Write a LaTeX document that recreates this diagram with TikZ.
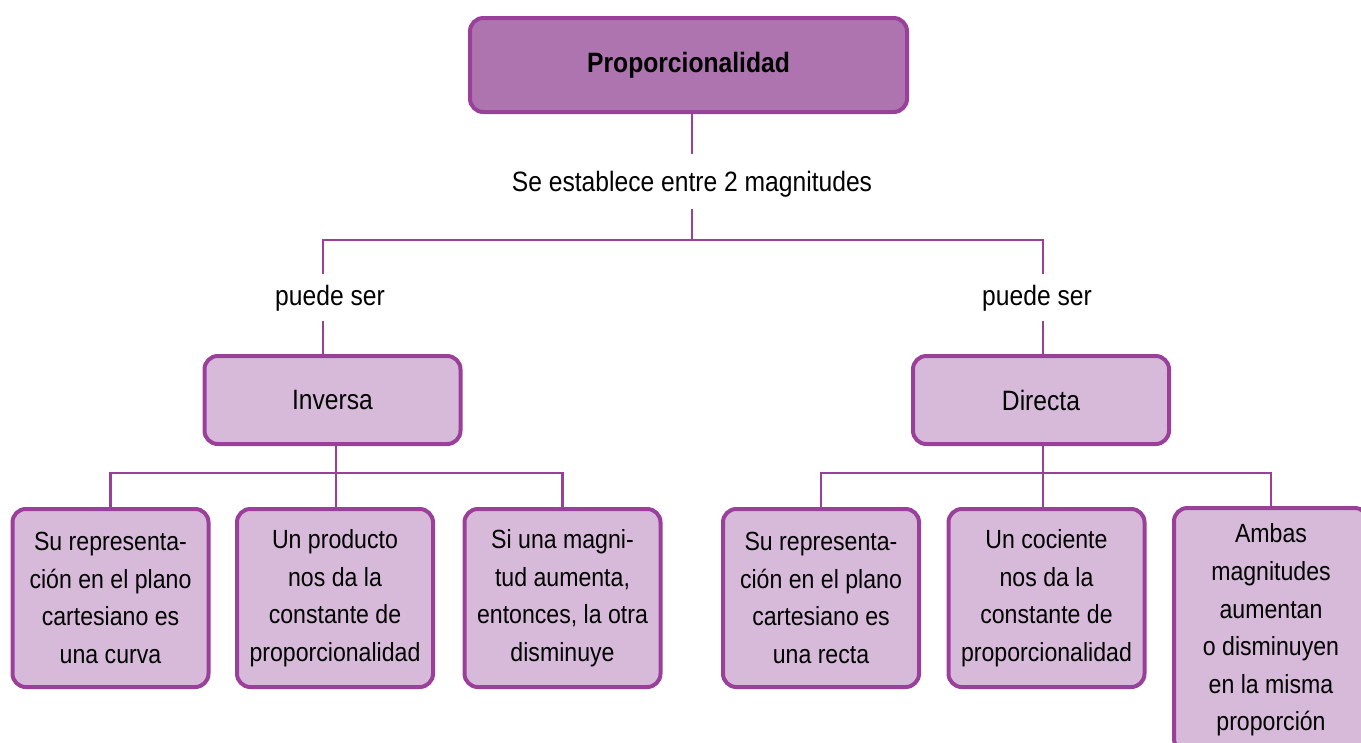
\documentclass[tikz,border=0pt]{standalone}
\usepackage{fontspec}
\setmainfont[FakeStretch=0.88]{Liberation Sans}
\begin{document}
\begin{tikzpicture}[x=0.75pt,y=-0.75pt,
  bd/.style={draw=pborder,line width=3pt,rounded corners=10pt},
  topbox/.style={bd,fill=pdark,minimum width=437*0.75pt,minimum height=94*0.75pt,font=\fontsize{21}{25}\selectfont\bfseries},
  midbox/.style={bd,fill=plight,minimum width=256*0.75pt,minimum height=88*0.75pt,font=\fontsize{21}{25}\selectfont},
  lowbox/.style={bd,fill=plight,minimum width=196*0.75pt,minimum height=178*0.75pt,align=center,font=\fontsize{19.7}{28.2}\selectfont},
  lbl/.style={font=\fontsize{21}{25}\selectfont,inner sep=2pt},
  conn/.style={draw=pborder,line width=1.6pt}]
\definecolor{pdark}{RGB}{174,116,175}
\definecolor{plight}{RGB}{215,186,218}
\definecolor{pborder}{RGB}{154,64,154}
\useasboundingbox (0,0) rectangle (1361,743);
\clip (0,0) rectangle (1361,743);
% nodes
\node[topbox] (top) at (688.5,65) {Proporcionalidad};
\node[lbl] (se) at (692,184) {Se establece entre 2 magnitudes};
\node[lbl] (ps1) at (330,298) {puede ser};
\node[lbl] (ps2) at (1037,298) {puede ser};
\node[midbox] (inv) at (332.5,400) {Inversa};
\node[midbox] (dir) at (1041,400) {Directa};
\node[lowbox] (b1) at (110.5,598) {Su representa-\\ción en el plano\\cartesiano es\\una curva};
\node[lowbox] (b2) at (335,598) {Un producto\\nos da la\\constante de\\proporcionalidad};
\node[lowbox] (b3) at (562.5,598) {Si una magni-\\tud aumenta,\\entonces, la otra\\disminuye};
\node[lowbox] (b4) at (821,598) {Su representa-\\ción en el plano\\cartesiano es\\una recta};
\node[lowbox] (b5) at (1046.5,598) {Un cociente\\nos da la\\constante de\\proporcionalidad};
\node[lowbox,minimum width=194*0.75pt,minimum height=244*0.75pt] (b6) at (1271,630) {Ambas\\magnitudes\\aumentan\\o disminuyen\\en la misma\\proporción};
% junctions
\coordinate (j0) at (692,240);
\coordinate (xl) at (323,0);
\coordinate (xr) at (1043,0);
\coordinate (hl) at (336,473);
\coordinate (hr) at (1043,473);
% connectors
\draw[conn] (top.south -| j0) -- ([yshift=14*0.75pt]se.north -| j0);
\draw[conn] ([yshift=-9*0.75pt]se.south -| j0) -- (j0);
\draw[conn] ([yshift=8*0.75pt]ps1.north -| xl) |- (j0) -| ([yshift=8*0.75pt]ps2.north -| xr);
\draw[conn] ([yshift=-7*0.75pt]ps1.south -| xl) -- (inv.north -| xl);
\draw[conn] ([yshift=-7*0.75pt]ps2.south -| xr) -- (dir.north -| xr);
\draw[conn] (inv.south -| hl) -- (hl);
\draw[conn] (b1.north) |- (hl) -| (b3.north);
\draw[conn] (hl) -- (b2.north -| hl);
\draw[conn] (dir.south -| hr) -- (hr);
\draw[conn] (b4.north) |- (hr) -| (b6.north);
\draw[conn] (hr) -- (b5.north -| hr);
\end{tikzpicture}
\end{document}
